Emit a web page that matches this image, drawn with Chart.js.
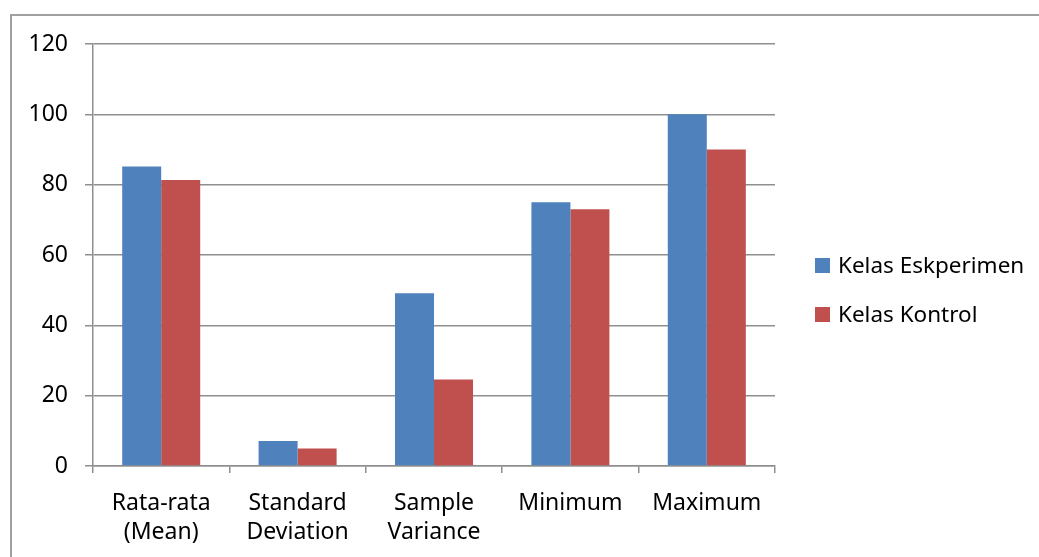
<!DOCTYPE html>
<html lang="id">
<head>
    <meta charset="UTF-8">
    <title>Statistik Kelas</title>
    <style>
        body { margin: 0; background: #fff; overflow: hidden; }
        .frame {
            position: absolute; left: 10px; top: 14px;
            width: 1100px; height: 600px;
            border: 2px solid #a0a0a0; box-sizing: border-box;
        }
        .wrap { position: absolute; left: 0; top: 0; width: 1039px; height: 557px; }
    </style>
    <script src="https://cdn.jsdelivr.net/npm/chart.js"></script>
</head>
<body>
    <div class="frame"></div>
    <div class="wrap">
        <canvas id="grafik" width="1039" height="557"></canvas>
    </div>

<script>
    // data
    const kategori = [
        ['Rata-rata', '(Mean)'],
        ['Standard', 'Deviation'],
        ['Sample', 'Variance'],
        'Minimum',
        'Maximum'
    ];
    const eksperimen = [85.2, 7.1, 49.1, 75, 100];
    const kontrol = [81.3, 5.0, 24.6, 73, 90];
    const yTicks = [0, 20, 40, 60, 80, 100, 120];

    const warnaBiru = '#4f81bd';
    const warnaMerah = '#c0504d';
    const abu = '#8f8f8f';
    const huruf = { family: "'Noto Sans', sans-serif", size: 23 };

    // legenda digambar sendiri supaya posisinya sama seperti di Excel
    const legendaKanan = {
        id: 'legendaKanan',
        afterDraw(chart) {
            const ctx = chart.ctx;
            const x = chart.chartArea.right + 40;
            const ys = [265.5, 314.5];
            ctx.save();
            ctx.font = '22.5px ' + huruf.family;
            ctx.textBaseline = 'middle';
            chart.data.datasets.forEach((ds, i) => {
                ctx.fillStyle = ds.backgroundColor;
                ctx.fillRect(x, ys[i] - 7.5, 15, 15);
                ctx.fillStyle = '#000';
                ctx.fillText(ds.label, x + 23, ys[i] + 1);
            });
            ctx.restore();
        }
    };

    new Chart(document.getElementById('grafik'), {
        type: 'bar',
        data: {
            labels: kategori,
            datasets: [
                { label: 'Kelas Eskperimen', data: eksperimen, backgroundColor: warnaBiru },
                { label: 'Kelas Kontrol', data: kontrol, backgroundColor: warnaMerah }
            ]
        },
        options: {
            responsive: false,
            animation: false,
            layout: { padding: { left: 0, top: 44, right: 264, bottom: 0 } },
            plugins: { legend: { display: false }, tooltip: { enabled: false } },
            datasets: { bar: { categoryPercentage: 0.572, barPercentage: 1 } },
            scales: {
                x: {
                    grid: { drawOnChartArea: false, color: abu, lineWidth: 1.5, tickLength: 7 },
                    border: { color: abu, width: 1.5 },
                    ticks: { color: '#000', font: { ...huruf, lineHeight: 1.27 }, padding: 16, maxRotation: 0 },
                    afterFit(scale) { scale.height = 91; }
                },
                y: {
                    min: 0, max: 120,
                    afterBuildTicks(scale) { scale.ticks = yTicks.map(v => ({ value: v })); },
                    grid: { color: abu, lineWidth: 1.5, tickLength: 8 },
                    border: { color: abu, width: 1.5 },
                    ticks: { color: '#000', font: huruf, padding: 17 },
                    afterFit(scale) { scale.width = 93; }
                }
            }
        },
        plugins: [legendaKanan]
    });
</script>
</body>
</html>
